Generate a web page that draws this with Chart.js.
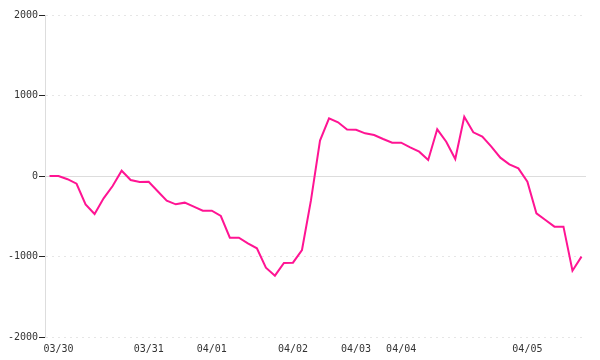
<!DOCTYPE html>
<html>
<head>
<meta charset="utf-8">
<script src="https://cdn.jsdelivr.net/npm/chart.js@4/dist/chart.umd.min.js"></script>
<style>
  html, body { margin: 0; padding: 0; background: #fff; }
  #wrap { width: 600px; height: 360px; position: relative; }
</style>
</head>
<body>
<div id="wrap"><canvas id="c"></canvas></div>
<script>
// Tick labels shown on the x axis (one slot per data point, blank where no label)
const labelAt = { 1: '03/30', 11: '03/31', 18: '04/01', 27: '04/02', 34: '04/03', 39: '04/04', 53: '04/05' };
const values = [
  0, 0, -40, -96, -352, -472, -277, -124, 66, -50,
  -75, -72, -190, -307, -352, -331, -381, -431, -431, -497,
  -766, -766, -836, -898, -1139, -1238, -1081, -1077, -919, -300,
  440, 717, 667, 578, 575, 530, 509, 460, 414, 414,
  356, 302, 199, 580, 426, 211, 737, 543, 489, 364,
  228, 145, 95, -70, -464, -547, -629, -629, -1176, -1002
];
const categories = values.map((v, i) => labelAt[i] || '');
const yTicks = [-2000, -1000, 0, 1000, 2000];

const font = { family: 'DejaVu Sans Mono', size: 10 };

new Chart(document.getElementById('c'), {
  type: 'line',
  data: {
    labels: categories,
    datasets: [{
      data: values,
      borderColor: '#ff1493',
      borderWidth: 2,
      pointRadius: 0,
      tension: 0,
      fill: false
    }]
  },
  options: {
    responsive: true,
    maintainAspectRatio: false,
    animation: false,
    layout: { padding: { top: 15, right: 14, left: 0, bottom: 0 } },
    plugins: { legend: { display: false }, tooltip: { enabled: false } },
    scales: {
      x: {
        offset: true,
        grid: { display: false, drawTicks: false },
        border: { display: false },
        ticks: {
          autoSkip: false,
          maxRotation: 0,
          minRotation: 0,
          padding: 6,
          color: '#333',
          font: font
        },
        afterFit: s => { s.height = 23; }
      },
      y: {
        min: -2000,
        max: 2000,
        afterBuildTicks: s => { s.ticks = yTicks.map(v => ({ value: v })); },
        grid: {
          color: ctx => ctx.tick && ctx.tick.value === 0 ? '#dddddd' : '#e6e6e6',
          tickColor: '#222',
          tickLength: 6,
          tickBorderDash: [],
          lineWidth: 1
        },
        border: {
          display: true,
          color: '#dddddd',
          dash: ctx => ctx.tick && ctx.tick.value === 0 ? [] : [2, 4]
        },
        ticks: {
          padding: 1,
          color: '#333',
          font: font,
          callback: v => String(v)
        },
        afterFit: s => { s.width = 45; }
      }
    }
  }
});
</script>
</body>
</html>
